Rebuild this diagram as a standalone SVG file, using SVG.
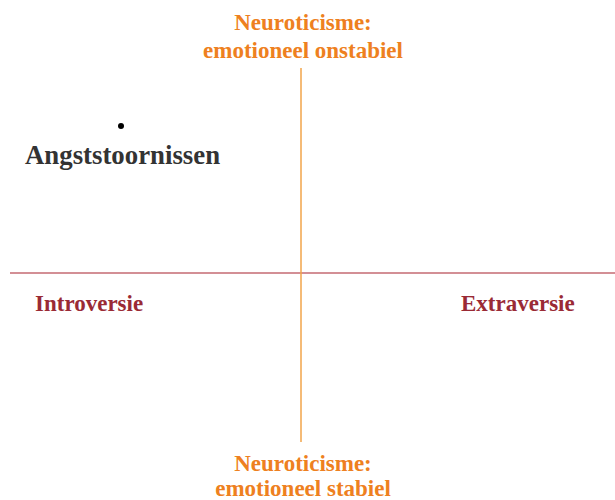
<svg xmlns="http://www.w3.org/2000/svg" width="615" height="500" viewBox="0 0 615 500">
  <style>
    text { font-family: "Liberation Serif", "Times New Roman", serif; font-weight: bold; }
    .neuro { fill: #ee8020; font-size: 23px; text-anchor: middle; }
    .extra { fill: #9a2a35; font-size: 23px; }
    .item { fill: #333333; font-size: 26.8px; }
  </style>
  <rect width="615" height="500" fill="#ffffff"/>
  <g id="axes">
    <line x1="10" y1="273" x2="615" y2="273" stroke="#c46a72" stroke-width="1.5"/>
    <line x1="301" y1="68" x2="301" y2="442" stroke="#f2a54a" stroke-width="1.5"/>
  </g>
  <g id="axis-top">
    <text class="neuro" x="303" y="30">Neuroticisme:</text>
    <text class="neuro" x="303" y="58">emotioneel onstabiel</text>
  </g>
  <g id="axis-bottom">
    <text class="neuro" x="303" y="471">Neuroticisme:</text>
    <text class="neuro" x="303" y="496">emotioneel stabiel</text>
  </g>
  <g id="axis-left">
    <text class="extra" x="35" y="311">Introversie</text>
  </g>
  <g id="axis-right">
    <text class="extra" x="461" y="311">Extraversie</text>
  </g>
  <g id="angststoornissen">
    <circle cx="121" cy="126" r="3" fill="#000000"/>
    <text class="item" x="25" y="164">Angststoornissen</text>
  </g>
</svg>
